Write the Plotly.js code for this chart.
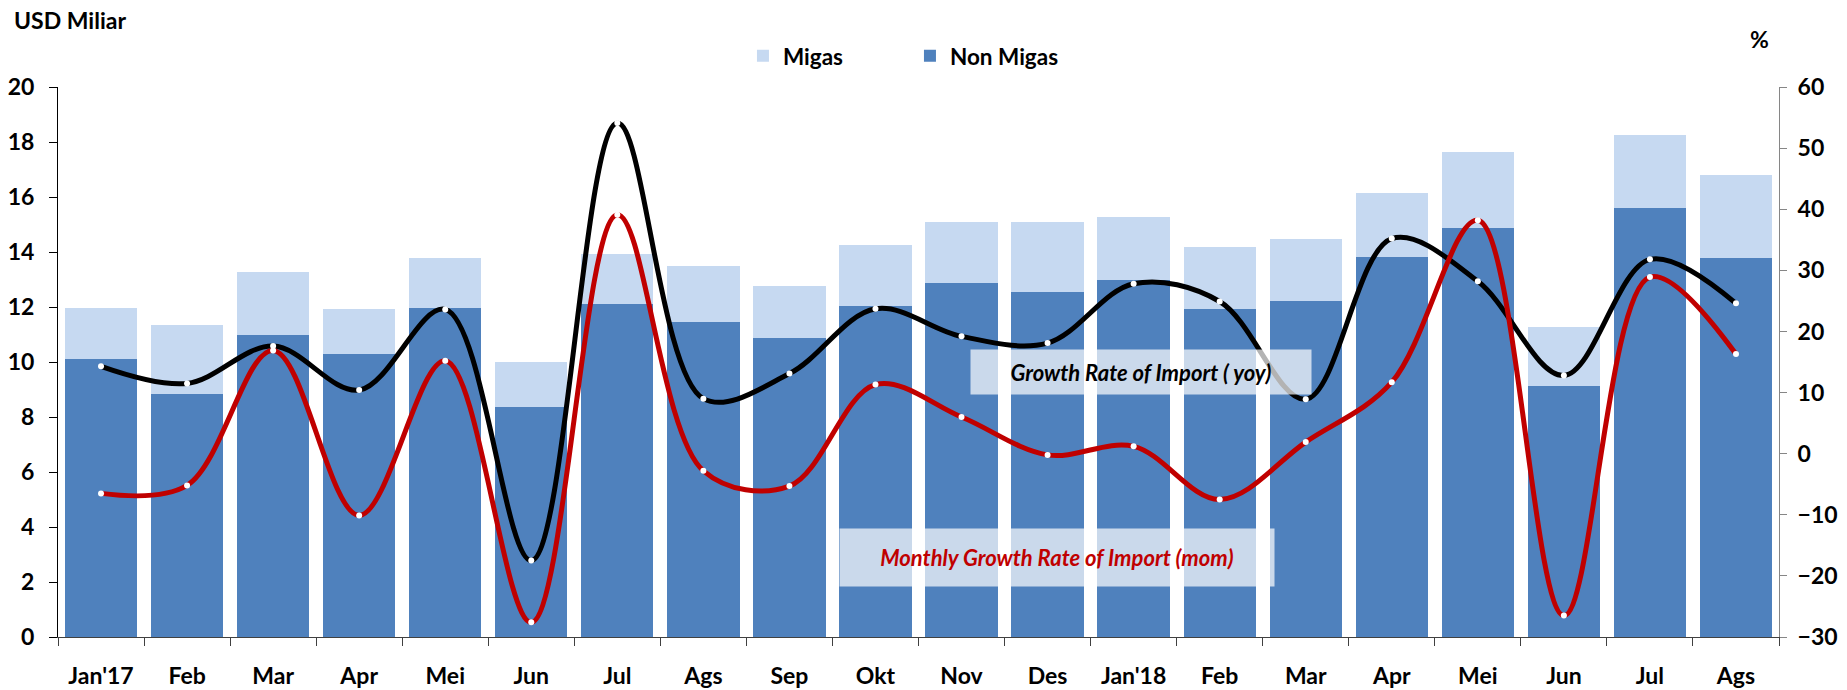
<!DOCTYPE html>
<html>
<head>
<meta charset="utf-8">
<script src="https://cdn.plot.ly/plotly-3.0.1.min.js"></script>
<style>html,body{margin:0;padding:0;background:#fff;}#chart{width:1847px;height:690px;}</style>
</head>
<body>
<div id="chart"></div>
<script>
const tickLabels = ["Jan'17","Feb","Mar","Apr","Mei","Jun","Jul","Ags","Sep","Okt","Nov","Des","Jan'18","Feb","Mar","Apr","Mei","Jun","Jul","Ags"];
const monthIndex = [0,1,2,3,4,5,6,7,8,9,10,11,12,13,14,15,16,17,18,19];
const totalImport = [11.97,11.33,13.27,11.93,13.80,9.99,13.91,13.50,12.78,14.25,15.08,15.08,15.29,14.18,14.48,16.16,17.64,11.27,18.26,16.79];
const nonMigas = [10.11,8.85,10.98,10.29,11.98,8.38,12.11,11.46,10.87,12.03,12.88,12.53,13.00,11.93,12.22,13.82,14.87,9.14,15.61,13.78];
const migas = totalImport.map((t,i)=>+(t - nonMigas[i]).toFixed(2));
const yoy = [14.3,11.5,17.6,10.4,23.6,-17.5,54.1,9.0,13.1,23.7,19.2,18.1,27.8,24.9,8.9,35.2,28.2,12.8,31.8,24.6];
const mom = [-6.5,-5.2,16.9,-10.1,15.2,-27.6,39.1,-2.8,-5.3,11.3,6.0,-0.2,1.2,-7.5,1.9,11.7,38.2,-26.5,28.9,16.3];

const FONT = "Lato,'Liberation Sans',Arial,sans-serif";
const f = (size,color)=>({family:FONT, size:size, color:color||'#000', weight:'bold'});

const traces = [
  {type:'bar', name:'Non Migas', x:monthIndex, y:nonMigas, marker:{color:'#4F81BD', line:{width:0}}, hoverinfo:'skip'},
  {type:'bar', name:'Migas', x:monthIndex, y:migas, marker:{color:'#C6D9F1', line:{width:0}}, hoverinfo:'skip'},
  {type:'scatter', mode:'lines+markers', name:'yoy', x:monthIndex, y:yoy, yaxis:'y2', showlegend:false,
   line:{color:'#000000', width:5, shape:'spline', smoothing:1}, marker:{color:'#ffffff', size:6}},
  {type:'scatter', mode:'lines+markers', name:'mom', x:monthIndex, y:mom, yaxis:'y2', showlegend:false,
   line:{color:'#C00000', width:5, shape:'spline', smoothing:1}, marker:{color:'#ffffff', size:6}}
];

const layout = {
  width:1847, height:690,
  margin:{l:58, r:68, t:87, b:53},
  paper_bgcolor:'#ffffff', plot_bgcolor:'#ffffff',
  font:f(23),
  barmode:'stack', bargap:0.16,
  showlegend:true,
  legend:{orientation:'h', x:0.398, y:1.056, xanchor:'left', yanchor:'middle', traceorder:'reversed',
          font:f(22.5), entrywidth:122, entrywidthmode:'pixels', bgcolor:'rgba(0,0,0,0)'},
  xaxis:{range:[-0.5,19.5], tickmode:'array', tickvals:monthIndex, ticktext:tickLabels, ticks:'',
         showline:true, linecolor:'#404040', linewidth:1, showgrid:false, zeroline:false,
         tickfont:f(23), ticklabelstandoff:18,
         minor:{ticks:'outside', ticklen:8, tickcolor:'#404040', tick0:-0.5, dtick:1, showgrid:false}},
  yaxis:{range:[0,20], dtick:2, showline:true, linecolor:'#000', linewidth:1, ticks:'outside', ticklen:8, tickcolor:'#000',
         showgrid:false, zeroline:false, tickfont:f(23), ticklabelstandoff:10},
  yaxis2:{range:[-30,60], dtick:10, overlaying:'y', side:'right', showline:true, linecolor:'#868686', linewidth:1,
          ticks:'outside', ticklen:7, tickcolor:'#868686', showgrid:false, zeroline:false,
          tickfont:f(23), ticklabelstandoff:6},
  annotations:[
    {xref:'paper', yref:'paper', x:-0.0267, y:1.121, xanchor:'left', yanchor:'middle', showarrow:false,
     text:'USD Miliar', font:f(23)},
    {xref:'paper', yref:'paper', x:0.9885, y:1.087, xanchor:'center', yanchor:'middle', showarrow:false,
     text:'%', font:f(23)},
    {xref:'paper', yref:'paper', x:0.6293, y:0.4818, xanchor:'center', yanchor:'middle', showarrow:false,
     text:'<i>Growth Rate of Import ( yoy)</i>', width:340, height:44, borderpad:0,
     bgcolor:'rgba(255,255,255,0.7)', font:f(22)},
    {xref:'paper', yref:'paper', x:0.5805, y:0.1445, xanchor:'center', yanchor:'middle', showarrow:false,
     text:'<i>Monthly Growth Rate of Import (mom)</i>', width:434, height:57, borderpad:0,
     bgcolor:'rgba(255,255,255,0.7)', font:f(22,'#C00000')}
  ]
};

Plotly.newPlot('chart', traces, layout, {displayModeBar:false, staticPlot:true});
</script>
</body>
</html>
